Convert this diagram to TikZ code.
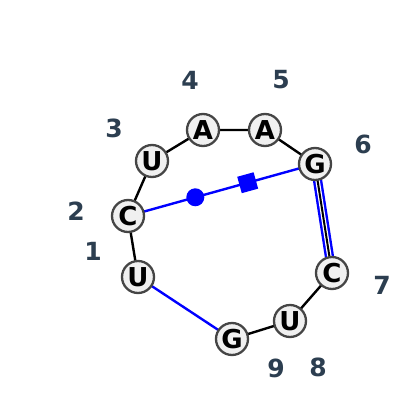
\documentclass[tikz,border=0pt]{standalone}
\usepackage{fontspec}
\setmainfont{DejaVu Sans}
\usetikzlibrary{calc}
\definecolor{nucfill}{gray}{0.94}
\definecolor{nucedge}{gray}{0.27}
\definecolor{numcol}{RGB}{44, 62, 80}
\definecolor{pairblue}{RGB}{0, 0, 255}

\tikzset{
  nuc/.style={circle, draw=nucedge, fill=nucfill, line width=2.3pt, inner sep=0pt,
              minimum size=32pt, font=\fontsize{26}{26}\selectfont\bfseries},
  num/.style={text=numcol, font=\fontsize{25}{25}\selectfont\bfseries},
  backbone/.style={line width=2.4pt, color=black},
  pair/.style={line width=2.4pt, color=pairblue}
}

\begin{document}
\begin{tikzpicture}[x=1pt, y=-1pt]
  \useasboundingbox (0, 0) rectangle (400, 410);

  % sequence positions
  \coordinate (p1) at (138, 277);
  \coordinate (p2) at (128, 216);
  \coordinate (p3) at (152, 161);
  \coordinate (p4) at (203, 130);
  \coordinate (p5) at (265, 130);
  \coordinate (p6) at (315, 164);
  \coordinate (p7) at (332, 273);
  \coordinate (p8) at (290, 321);
  \coordinate (p9) at (232, 339);

  % base pairs
  \draw [pair] (p2) -- (p6)
    node[pos=0.36, circle, fill=pairblue, minimum size=18pt, inner sep=0pt] (dot) {}
    node[pos=0.64, sloped, fill=pairblue, minimum size=17pt, inner sep=0pt] (box) {};
  \draw [pair] (p1) -- (p9);
  \draw [pair, double=white, double distance=4.5pt] (p6) -- (p7);

  % backbone
  \draw [backbone] (p1) -- (p2) -- (p3) -- (p4) -- (p5) -- (p6);
  \draw [backbone, line width=2pt] (p6) -- (p7);
  \draw [backbone] (p7) -- (p8) -- (p9);

  % nucleotides
  \node [nuc] (n1) at (p1) {U};
  \node [nuc] (n2) at (p2) {C};
  \node [nuc] (n3) at (p3) {U};
  \node [nuc] (n4) at (p4) {A};
  \node [nuc] (n5) at (p5) {A};
  \node [nuc] (n6) at (p6) {G};
  \node [nuc] (n7) at (p7) {C};
  \node [nuc] (n8) at (p8) {U};
  \node [nuc] (n9) at (p9) {G};

  % numbering
  \node [num] (l1) at (93, 251) {1};
  \node [num] (l2) at (76, 211) {2};
  \node [num] (l3) at (114, 128) {3};
  \node [num] (l4) at (190, 80) {4};
  \node [num] (l5) at (281, 80) {5};
  \node [num] (l6) at (363, 144) {6};
  \node [num] (l7) at (382, 285) {7};
  \node [num] (l8) at (318, 367) {8};
  \node [num] (l9) at (276, 368) {9};

\end{tikzpicture}
\end{document}
